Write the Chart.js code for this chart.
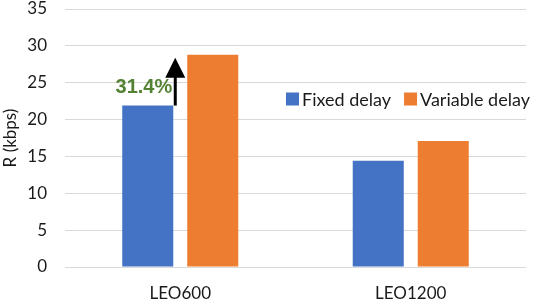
<!DOCTYPE html>
<html>
<head>
<meta charset="utf-8">
<script src="https://cdn.jsdelivr.net/npm/chart.js@4.4.0/dist/chart.umd.min.js"></script>
<style>
  html, body { margin: 0; padding: 0; background: #fff; }
  #wrap { width: 540px; height: 302px; }
</style>
</head>
<body>
<div id="wrap"><canvas id="chart"></canvas></div>
<script>
const categories = ['LEO600', 'LEO1200']
const fixedDelay = [21.9, 14.4]
const variableDelay = [28.8, 17.1]
const seriesNames = ['Fixed delay', 'Variable delay']
const gainLabel = '31.4%'

const blue = '#4472C4'
const orange = '#ED7D31'
const green = '#548235'
const textColor = '#1a1a1a'

// arrow + percentage over the LEO600 pair, and the legend inside the plot
const overlay = {
  id: 'overlay',
  afterDatasetsDraw(chart) {
    const ctx = chart.ctx
    const y = chart.scales.y
    const bar = chart.getDatasetMeta(0).data[0]
    const ax = bar.x + bar.width / 2 + 2
    const yBottom = y.getPixelForValue(fixedDelay[0])
    const yTop = y.getPixelForValue(variableDelay[0]) + 3

    ctx.save()
    ctx.strokeStyle = '#000'
    ctx.fillStyle = '#000'
    ctx.lineWidth = 3
    ctx.beginPath()
    ctx.moveTo(ax, yBottom)
    ctx.lineTo(ax, yTop + 18)
    ctx.stroke()
    ctx.beginPath()
    ctx.moveTo(ax, yTop)
    ctx.lineTo(ax - 10, yTop + 20)
    ctx.lineTo(ax + 10, yTop + 20)
    ctx.closePath()
    ctx.fill()

    ctx.fillStyle = green
    ctx.font = 'bold 20px "Liberation Sans", Arial, sans-serif'
    ctx.textAlign = 'right'
    ctx.textBaseline = 'middle'
    ctx.fillText(gainLabel, ax - 3, (yBottom + yTop) / 2 + 6)

    // legend
    const colors = [blue, orange]
    let lx = chart.chartArea.left + 221
    const ly = chart.chartArea.top + 90
    ctx.font = '18px Lato, "Open Sans", sans-serif'
    ctx.textAlign = 'left'
    seriesNames.forEach((name, i) => {
      ctx.fillStyle = colors[i]
      ctx.fillRect(lx, ly - 6.5, 13, 13)
      ctx.fillStyle = textColor
      ctx.fillText(name, lx + 16, ly + 1)
      lx += 16 + ctx.measureText(name).width + 13
    })
    ctx.restore()
  },
}

new Chart(document.getElementById('chart'), {
  type: 'bar',
  data: {
    labels: categories,
    datasets: [
      {
        label: seriesNames[0],
        data: fixedDelay,
        backgroundColor: blue,
        categoryPercentage: 0.564,
        barPercentage: 0.785,
      },
      {
        label: seriesNames[1],
        data: variableDelay,
        backgroundColor: orange,
        categoryPercentage: 0.564,
        barPercentage: 0.785,
      },
    ],
  },
  options: {
    responsive: true,
    maintainAspectRatio: false,
    animation: false,
    layout: { padding: { top: 0, right: 14, left: 0, bottom: 0 } },
    plugins: {
      legend: { display: false },
      tooltip: { enabled: false },
    },
    scales: {
      x: {
        grid: { display: false, drawTicks: false },
        border: { display: false },
        ticks: {
          color: textColor,
          font: { family: 'Lato', size: 17 },
          padding: 16,
        },
        afterFit(scale) {
          scale.height = 35
        },
      },
      y: {
        min: 0,
        max: 35,
        ticks: {
          stepSize: 5,
          color: textColor,
          font: { family: 'Lato', size: 17 },
          padding: 18,
        },
        grid: { color: '#d9d9d9', drawTicks: false, lineWidth: 1 },
        border: { display: false },
        title: {
          display: true,
          text: 'R (kbps)',
          color: textColor,
          font: { family: 'Lato', size: 17 },
          padding: 0,
        },
        afterFit(scale) {
          scale.width = 65
          scale.paddingTop = 9
          scale.paddingBottom = 0
        },
      },
    },
  },
  plugins: [overlay],
})
</script>
</body>
</html>
